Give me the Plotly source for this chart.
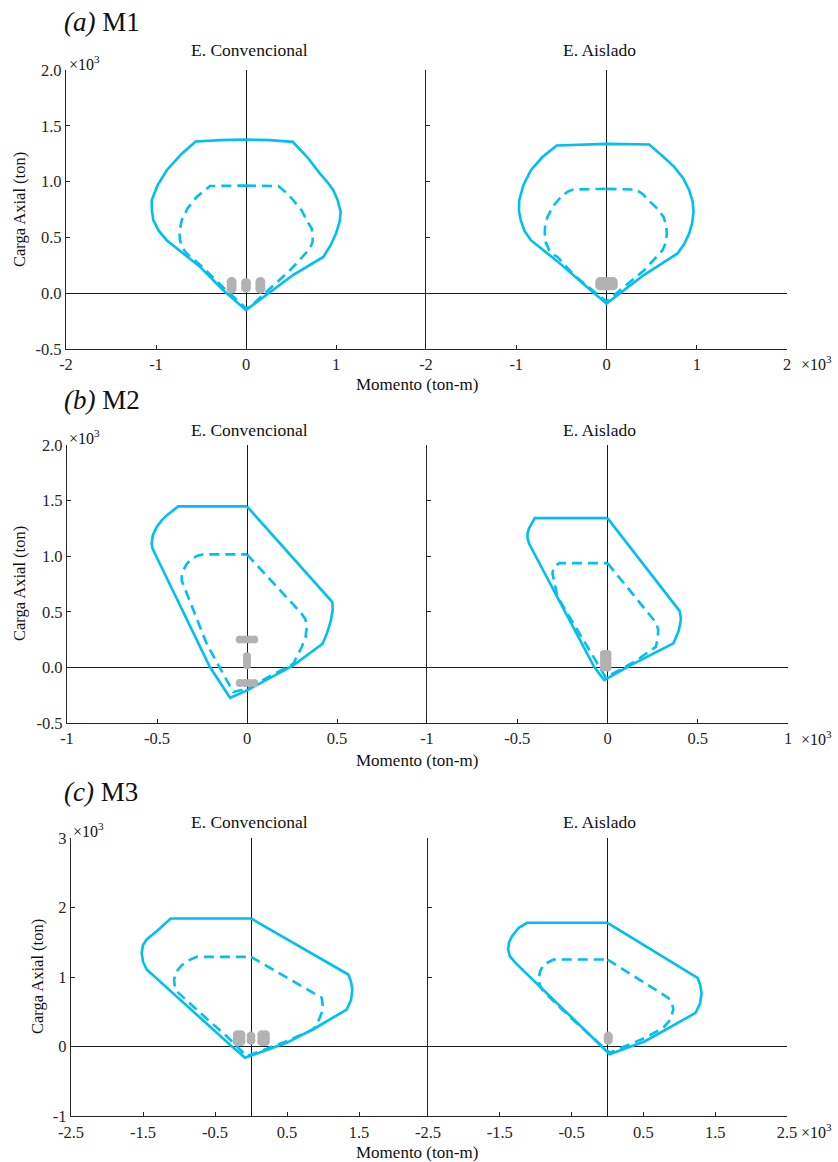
import plotly.graph_objects as go

W, H = 838, 1162
FONT = "Liberation Serif"
CYAN = "#00BFF5"
GREY = "#B2B2B2"
INK = "#262626"

# ---- Interaction diagrams (values in 10^3: moment ton-m, axial load ton) ----
# M1 - conventional structure
m1c_nom_M = [0, 0.26, 0.519, 0.68, 0.822, 0.91, 0.97, 1.02, 1.052, 1.04, 1.0, 0.94, 0.859, 0.526, 0,
             -0.252, -0.511, -0.881, -0.97, -1.03, -1.045, -1.048, -0.98, -0.881, -0.714, -0.559, -0.28, 0]
m1c_nom_P = [1.377, 1.372, 1.356, 1.22, 1.072, 0.99, 0.923, 0.83, 0.729, 0.64, 0.535, 0.43, 0.325, 0.165, -0.152,
             0.027, 0.236, 0.475, 0.56, 0.654, 0.74, 0.833, 0.97, 1.102, 1.25, 1.359, 1.372, 1.377]
m1c_dis_M = [0, 0.36, 0.45, 0.526, 0.62, 0.674, 0.73, 0.741, 0.74, 0.711, 0.489, 0.044, 0,
             -0.25, -0.49, -0.659, -0.71, -0.733, -0.74, -0.714, -0.65, -0.548, -0.4, 0]
m1c_dis_P = [0.965, 0.96, 0.9, 0.833, 0.74, 0.654, 0.58, 0.535, 0.46, 0.4, 0.206, -0.123, -0.135,
             0.05, 0.24, 0.356, 0.41, 0.475, 0.55, 0.654, 0.76, 0.863, 0.96, 0.965]
m1c_dem_M = [-0.16, -0.16, -0.16, 0, 0, 0.16, 0.16, 0.16]
m1c_dem_P = [0.04, 0.07, 0.10, 0.05, 0.09, 0.04, 0.07, 0.10]

# M1 - isolated structure
m1a_nom_M = [0, 0.473, 0.62, 0.75, 0.85, 0.916, 0.955, 0.964, 0.95, 0.916, 0.86, 0.787, 0.417, 0,
             -0.136, -0.543, -0.838, -0.91, -0.95, -0.97, -0.967, -0.92, -0.838, -0.71, -0.551, 0]
m1a_nom_P = [1.338, 1.332, 1.23, 1.132, 1.03, 0.923, 0.82, 0.729, 0.63, 0.535, 0.44, 0.356, 0.165, -0.093,
             0.0, 0.285, 0.475, 0.56, 0.654, 0.74, 0.833, 0.97, 1.102, 1.22, 1.323, 1.338]
m1a_dis_M = [0, 0.325, 0.4, 0.465, 0.56, 0.632, 0.66, 0.668, 0.655, 0.621, 0.417, 0,
             -0.358, -0.543, -0.6, -0.635, -0.675, -0.684, -0.68, -0.654, -0.59, -0.506, -0.43, -0.369, 0]
m1a_dis_P = [0.935, 0.929, 0.89, 0.833, 0.76, 0.684, 0.61, 0.535, 0.45, 0.385, 0.206, -0.075,
             0.16, 0.325, 0.35, 0.385, 0.46, 0.535, 0.61, 0.684, 0.78, 0.863, 0.91, 0.929, 0.935]
m1a_dem_M = [-0.07, -0.035, 0, 0.035, 0.07, -0.07, -0.035, 0, 0.035, 0.07]
m1a_dem_P = [0.07, 0.07, 0.07, 0.07, 0.07, 0.10, 0.10, 0.10, 0.10, 0.10]

# M2 - conventional structure
m2c_nom_M = [0, 0.474, 0.476, 0.466, 0.445, 0.42, 0.257, 0, -0.094, -0.206, -0.511,
             -0.525, -0.53, -0.523, -0.502, -0.475, -0.446, -0.382, 0]
m2c_nom_P = [1.448, 0.587, 0.52, 0.42, 0.31, 0.213, 0.018, -0.207, -0.273, 0.003, 1.022,
             1.07, 1.112, 1.19, 1.262, 1.32, 1.367, 1.448, 1.448]
m2c_dis_M = [0, 0.304, 0.325, 0.332, 0.325, 0.304, 0.257, 0, -0.076, -0.224, -0.363,
             -0.362, -0.354, -0.335, -0.307, -0.275, -0.243, 0]
m2c_dis_P = [1.016, 0.483, 0.43, 0.362, 0.27, 0.183, 0.033, -0.192, -0.222, 0.213, 0.782,
             0.83, 0.872, 0.93, 0.977, 1.005, 1.016, 1.016]
m2c_dem_M = [-0.04, -0.013, 0.013, 0.04, 0, 0, 0, 0, -0.04, -0.013, 0.013, 0.04]
m2c_dem_P = [0.25, 0.25, 0.25, 0.25, 0.02, 0.05, 0.08, 0.10, -0.14, -0.14, -0.14, -0.14]

# M2 - isolated structure
m2a_nom_M = [0, 0.4, 0.405, 0.406, 0.395, 0.365, 0.129, -0.018, -0.074, -0.434,
             -0.443, -0.443, -0.435, -0.425, -0.403, 0]
m2a_nom_P = [1.342, 0.506, 0.46, 0.425, 0.33, 0.216, 0.021, -0.114, 0.005, 1.112,
             1.16, 1.205, 1.25, 1.28, 1.342, 1.342]
m2a_dis_M = [0, 0.24, 0.27, 0.281, 0.278, 0.268, 0.148, -0.01, -0.111, -0.185, -0.277,
             -0.305, -0.3, -0.285, -0.265, 0]
m2a_dis_P = [0.938, 0.455, 0.4, 0.335, 0.26, 0.185, 0.05, -0.09, 0.185, 0.395, 0.635,
             0.845, 0.89, 0.92, 0.938, 0.938]
m2a_dem_M = [-0.02, -0.02, -0.02, -0.02, 0, 0, 0, 0]
m2a_dem_P = [0.0, 0.04, 0.08, 0.12, 0.0, 0.04, 0.08, 0.12]

# M3 - conventional structure
m3c_nom_M = [0, 1.351, 1.39, 1.407, 1.39, 1.329, 0.9, 0.496, -0.083, -0.268, -1.449,
             -1.5, -1.518, -1.5, -1.449, -1.31, -1.115, 0]
m3c_nom_P = [1.842, 1.036, 0.93, 0.82, 0.67, 0.532, 0.27, 0.053, -0.163, 0.004, 1.108,
             1.22, 1.348, 1.46, 1.54, 1.659, 1.842, 1.842]
m3c_dis_M = [0, 0.982, 0.995, 0.982, 0.93, 0.866, 0.496, -0.06, -0.338, -0.708, -1.032,
             -1.06, -1.069, -1.032, -0.97, -0.893, -0.754, 0]
m3c_dis_P = [1.29, 0.7, 0.6, 0.485, 0.35, 0.245, 0.077, -0.14, 0.148, 0.485, 0.796,
             0.88, 0.964, 1.084, 1.16, 1.227, 1.29, 1.29]
m3c_dem_M = [-0.19, -0.19, -0.19, -0.14, -0.14, -0.14, 0, 0, 0.15, 0.15, 0.15, 0.2, 0.2, 0.2]
m3c_dem_P = [0.07, 0.12, 0.17, 0.07, 0.12, 0.17, 0.09, 0.15, 0.07, 0.12, 0.17, 0.07, 0.12, 0.17]

# M3 - isolated structure
m3a_nom_M = [0, 1.254, 1.29, 1.31, 1.29, 1.227, 0.523, 0.03, -1.282,
             -1.36, -1.385, -1.37, -1.329, -1.236, -1.12, 0]
m3a_nom_P = [1.78, 0.988, 0.89, 0.772, 0.62, 0.484, 0.076, -0.11, 1.204,
             1.3, 1.396, 1.5, 1.587, 1.708, 1.78, 1.78]
m3a_dis_M = [0, 0.847, 0.9, 0.917, 0.87, 0.778, 0.523, 0.03, -0.357, -0.681, -0.912,
             -0.945, -0.958, -0.94, -0.889, -0.75, 0]
m3a_dis_P = [1.252, 0.7, 0.62, 0.532, 0.38, 0.269, 0.125, -0.09, 0.269, 0.58, 0.82,
             0.89, 0.964, 1.08, 1.18, 1.252, 1.252]
m3a_dem_M = [0.01, 0.01, 0.01]
m3a_dem_P = [0.09, 0.12, 0.15]

# ---- Axis ticks ----
x_ticks_m1 = [-2, -1, 0, 1, 2]
x_labels_m1 = ["-2", "-1", "0", "1", "2"]
x_ticks_m2 = [-1, -0.5, 0, 0.5, 1]
x_labels_m2 = ["-1", "-0.5", "0", "0.5", "1"]
x_ticks_m3 = [-2.5, -1.5, -0.5, 0.5, 1.5, 2.5]
x_labels_m3 = ["-2.5", "-1.5", "-0.5", "0.5", "1.5", "2.5"]
y_ticks_m12 = [-0.5, 0, 0.5, 1.0, 1.5, 2.0]
y_labels_m12 = ["-0.5", "0.0", "0.5", "1.0", "1.5", "2.0"]
y_ticks_m3 = [-1, 0, 1, 2, 3]
y_labels_m3 = ["-1", "0", "1", "2", "3"]

panel_titles = ["E. Convencional", "E. Aislado"]
row_titles = ["<i>(a)</i> M1", "<i>(b)</i> M2", "<i>(c)</i> M3"]


def fx(p):
    return p / W


def fy(p):
    return 1 - p / H


# pixel frames of each axes box: (x_left, x_right, y_top, y_bottom)
panels = [
    dict(frame=(66, 426, 70, 349), xr=[-2, 2], xt=x_ticks_m1, xl=x_labels_m1, yr=[-0.5, 2.0], yt=y_ticks_m12, yl=y_labels_m12,
         series=(m1c_nom_M, m1c_nom_P, m1c_dis_M, m1c_dis_P, m1c_dem_M, m1c_dem_P), left=True, msize=10, xstand=0),
    dict(frame=(426, 787, 70, 349), xr=[-2, 2], xt=x_ticks_m1, xl=x_labels_m1, yr=[-0.5, 2.0], yt=y_ticks_m12, yl=y_labels_m12,
         series=(m1a_nom_M, m1a_nom_P, m1a_dis_M, m1a_dis_P, m1a_dem_M, m1a_dem_P), left=False, msize=10, xstand=0),
    dict(frame=(67, 427, 445, 723), xr=[-1, 1], xt=x_ticks_m2, xl=x_labels_m2, yr=[-0.5, 2.0], yt=y_ticks_m12, yl=y_labels_m12,
         series=(m2c_nom_M, m2c_nom_P, m2c_dis_M, m2c_dis_P, m2c_dem_M, m2c_dem_P), left=True, msize=8, xstand=0),
    dict(frame=(427, 788, 445, 723), xr=[-1, 1], xt=x_ticks_m2, xl=x_labels_m2, yr=[-0.5, 2.0], yt=y_ticks_m12, yl=y_labels_m12,
         series=(m2a_nom_M, m2a_nom_P, m2a_dis_M, m2a_dis_P, m2a_dem_M, m2a_dem_P), left=False, msize=8, xstand=0),
    dict(frame=(71, 431, 838, 1116), xr=[-2.5, 2.5], xt=x_ticks_m3, xl=x_labels_m3, yr=[-1, 3], yt=y_ticks_m3, yl=y_labels_m3,
         series=(m3c_nom_M, m3c_nom_P, m3c_dis_M, m3c_dis_P, m3c_dem_M, m3c_dem_P), left=True, msize=9, xstand=1),
    dict(frame=(428, 787, 838, 1116), xr=[-2.5, 2.5], xt=x_ticks_m3, xl=x_labels_m3, yr=[-1, 3], yt=y_ticks_m3, yl=y_labels_m3,
         series=(m3a_nom_M, m3a_nom_P, m3a_dis_M, m3a_dis_P, m3a_dem_M, m3a_dem_P), left=False, msize=9, xstand=1),
]

fig = go.Figure()
layout = dict(
    template="none",
    width=W, height=H, margin=dict(l=0, r=0, t=0, b=0, pad=0),
    paper_bgcolor="white", plot_bgcolor="rgba(0,0,0,0)", showlegend=False,
    font=dict(family=FONT, color=INK, size=17),
)

for i, pn in enumerate(panels, start=1):
    xa, ya = f"x{i}", f"y{i}"
    nM, nP, dM, dP, gM, gP = pn["series"]
    fig.add_trace(go.Scatter(x=nM, y=nP, mode="lines", xaxis=xa, yaxis=ya,
                             line=dict(color=CYAN, width=2.6), hoverinfo="skip"))
    fig.add_trace(go.Scatter(x=dM, y=dP, mode="lines", xaxis=xa, yaxis=ya,
                             line=dict(color=CYAN, width=2.6, dash="10px,6px"), hoverinfo="skip"))
    fig.add_trace(go.Scatter(x=gM, y=gP, mode="markers", xaxis=xa, yaxis=ya,
                             marker=dict(color=GREY, size=pn["msize"], line=dict(width=0)), hoverinfo="skip"))

    x0, x1, y0, y1 = pn["frame"]
    xlabels = list(pn["xl"])
    if pn["left"]:
        xlabels[-1] = ""  # shared with the first label of the right-hand axes
    key = "" if i == 1 else str(i)
    common = dict(
        tickmode="array", ticks="inside", ticklen=4, tickwidth=1.2, tickcolor=INK,
        showline=True, linecolor=INK, linewidth=1.3, showgrid=False, mirror=False,
        zeroline=True, zerolinecolor="#1a1a1a", zerolinewidth=1.1, automargin=False,
        tickfont=dict(family=FONT, size=16.5, color=INK), fixedrange=True,
    )
    layout["xaxis" + key] = dict(domain=[fx(x0), fx(x1)], range=pn["xr"], anchor=ya,
                                 tickvals=pn["xt"], ticktext=xlabels,
                                 ticklabelstandoff=pn["xstand"], **common)
    layout["yaxis" + key] = dict(domain=[fy(y1), fy(y0)], range=pn["yr"], anchor=xa,
                                 tickvals=pn["yt"],
                                 ticktext=pn["yl"] if pn["left"] else [""] * len(pn["yt"]), **common)

annotations = []


def note(text, x, y, size=17, xanchor="center", yanchor="middle", angle=0):
    annotations.append(dict(text=text, x=fx(x), y=fy(y), xref="paper", yref="paper",
                            showarrow=False, xanchor=xanchor, yanchor=yanchor, textangle=angle,
                            font=dict(family=FONT, size=size, color="#111111")))


# row labels, panel titles, axis titles and exponent markers
row_y = [22, 400, 792]
title_y = [50, 430, 822]
ylab = [(19, 210), (19, 584), (37, 977)]
xlab_y = [384, 760, 1152]
yexp = [(67, 63), (67, 437), (71, 830)]
xexp_y = [363, 738, 1131]

for r in range(3):
    note(row_titles[r], 62, row_y[r], size=27, xanchor="left")
    note(panel_titles[0], 249, title_y[r], size=17.5)
    note(panel_titles[1], 599, title_y[r], size=17.5)
    note("Carga Axial (ton)", ylab[r][0], ylab[r][1], size=16.5, angle=-90)
    note("Momento (ton-m)", 417, xlab_y[r], size=17)
    note("\u00d710<sup>3</sup>", yexp[r][0], yexp[r][1], size=16, xanchor="left")
    note("\u00d710<sup>3</sup>", 799, xexp_y[r], size=16, xanchor="left")

layout["annotations"] = annotations
fig.update_layout(**layout)
fig.write_html("out.html")
